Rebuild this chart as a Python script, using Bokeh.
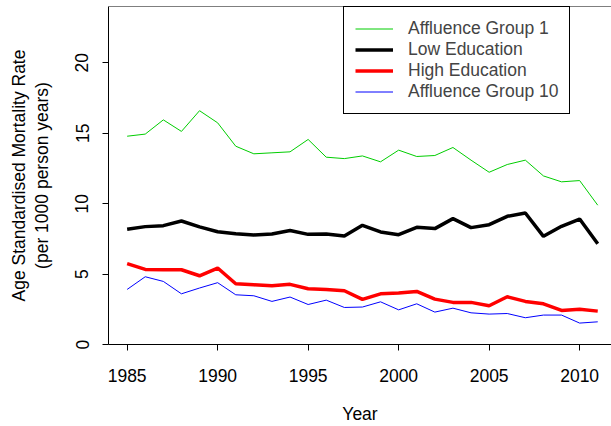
from bokeh.plotting import figure
from bokeh.models import Range1d, FixedTicker, Span, Legend, LegendItem, Title
from bokeh.embed import file_html
from bokeh.resources import INLINE

years = list(range(1985, 2012))
affluence1 = [14.79, 14.94, 15.95, 15.13, 16.60, 15.74, 14.08, 13.54, 13.61, 13.68,
              14.56, 13.30, 13.20, 13.39, 12.97, 13.80, 13.35, 13.42, 13.99, 13.09,
              12.23, 12.78, 13.09, 11.97, 11.55, 11.64, 9.89]
low_edu = [8.18, 8.37, 8.44, 8.77, 8.35, 8.01, 7.87, 7.78, 7.85, 8.09,
           7.82, 7.85, 7.70, 8.46, 7.99, 7.80, 8.32, 8.23, 8.94, 8.30,
           8.51, 9.10, 9.34, 7.68, 8.39, 8.91, 7.16]
high_edu = [5.74, 5.33, 5.31, 5.31, 4.88, 5.43, 4.31, 4.24, 4.17, 4.27,
            3.96, 3.91, 3.82, 3.20, 3.60, 3.65, 3.77, 3.22, 2.99, 2.99,
            2.75, 3.39, 3.06, 2.89, 2.42, 2.51, 2.37]
affluence10 = [3.91, 4.81, 4.48, 3.60, 4.01, 4.39, 3.53, 3.46, 3.06, 3.37,
               2.84, 3.15, 2.63, 2.66, 3.03, 2.46, 2.89, 2.30, 2.58, 2.25,
               2.16, 2.20, 1.90, 2.09, 2.09, 1.52, 1.61]
x_ticks = [1985, 1990, 1995, 2000, 2005, 2010]
y_ticks = [0, 5, 10, 15, 20]
series_names = ["Affluence Group 1", "Low Education", "High Education", "Affluence Group 10"]
y_label_lines = ["Age Standardised Mortality Rate", "(per 1000 person years)"]

FONT = "Liberation Sans"
FS = "17.5px"

x0, x1 = 1983.97, 2011.76
y0, y1 = 0, 24.0

p = figure(width=611, height=426, output_backend="svg", toolbar_location=None,
           x_range=Range1d(x0, x1), y_range=Range1d(y0, y1),
           min_border_left=108, min_border_right=0, min_border_top=6, min_border_bottom=82)
p.outline_line_color = None
p.xgrid.visible = False
p.ygrid.visible = False
p.background_fill_color = "white"
p.border_fill_color = "white"

for ax in (p.xaxis[0], p.yaxis[0]):
    ax.axis_line_color = "black"
    ax.axis_line_width = 1
    ax.major_tick_line_color = "black"
    ax.major_tick_out = 6
    ax.major_tick_in = 0
    ax.minor_tick_line_color = None
    ax.major_label_text_font = FONT
    ax.major_label_text_font_size = FS
    ax.major_label_text_color = "black"
    ax.axis_label_text_font = FONT
    ax.axis_label_text_font_size = FS
    ax.axis_label_text_font_style = "normal"
    ax.axis_label_text_color = "black"

p.xaxis[0].ticker = FixedTicker(ticks=x_ticks)
p.yaxis[0].ticker = FixedTicker(ticks=y_ticks)
p.xaxis[0].major_label_standoff = 18
p.yaxis[0].major_label_standoff = 14
p.yaxis[0].major_label_orientation = "vertical"
p.xaxis[0].axis_label = "Year"
p.xaxis[0].axis_label_standoff = 19
p.yaxis[0].axis_label = y_label_lines[1]
p.yaxis[0].axis_label_standoff = 21

p.add_layout(Span(location=y1, dimension="width", line_color="black", line_width=1))

r1 = p.line(years, affluence1, line_color="#00CD00", line_width=1)
r2 = p.line(years, low_edu, line_color="black", line_width=3.5)
r3 = p.line(years, high_edu, line_color="#FF0000", line_width=3.5)
r4 = p.line(years, affluence10, line_color="#0000FF", line_width=1)

legend = Legend(items=[LegendItem(label=series_names[0], renderers=[r1]),
                       LegendItem(label=series_names[1], renderers=[r2]),
                       LegendItem(label=series_names[2], renderers=[r3]),
                       LegendItem(label=series_names[3], renderers=[r4])],
                location=(235, 230))
legend.label_text_font = FONT
legend.label_text_font_size = FS
legend.glyph_width = 38
legend.glyph_height = 21
legend.label_height = 21
legend.label_standoff = 15
legend.spacing = 0
legend.padding = 11
legend.margin = 0
legend.border_line_color = "black"
legend.border_line_width = 1
legend.border_line_alpha = 1
legend.background_fill_alpha = 1
p.add_layout(legend, "center")

t1 = Title(text=y_label_lines[0], align="center", text_font=FONT, text_font_size=FS,
           text_font_style="normal", text_color="black", standoff=0)
p.add_layout(t1, "left")

open("out.html", "w").write(file_html(p, INLINE))
